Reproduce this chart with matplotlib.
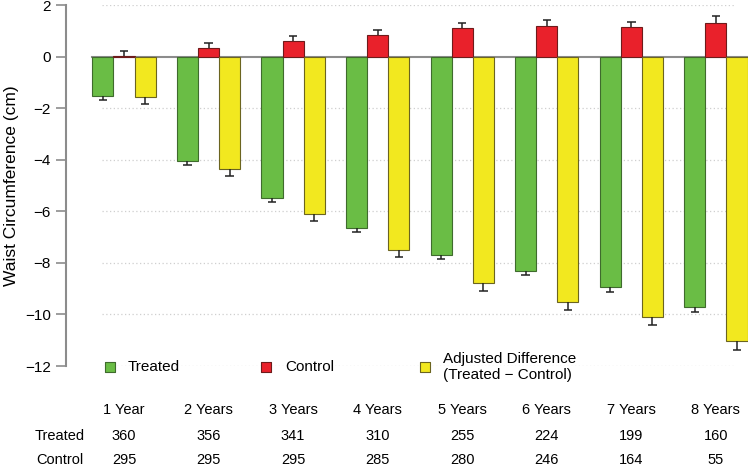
import numpy as np
import matplotlib
matplotlib.use("Agg")
from matplotlib import pyplot as plt
from matplotlib import transforms

plt.rcParams['font.family'] = ['Liberation Sans', 'DejaVu Sans']

# 数据: 腰围变化 (cm)
years = ["1 Year", "2 Years", "3 Years", "4 Years", "5 Years", "6 Years", "7 Years", "8 Years"]
treated = [-1.52, -4.04, -5.49, -6.65, -7.69, -8.32, -8.94, -9.72]
treated_se = [0.16, 0.16, 0.16, 0.16, 0.15, 0.16, 0.18, 0.17]
control = [0.03, 0.33, 0.60, 0.85, 1.11, 1.20, 1.16, 1.32]
control_se = [0.19, 0.18, 0.19, 0.17, 0.18, 0.20, 0.18, 0.26]
adjusted = [-1.56, -4.37, -6.10, -7.50, -8.79, -9.52, -10.10, -11.02]
adjusted_se = [0.29, 0.28, 0.27, 0.28, 0.31, 0.30, 0.31, 0.35]
n_treated = [360, 356, 341, 310, 255, 224, 199, 160]
n_control = [295, 295, 295, 285, 280, 246, 164, 55]

green = "#6abd45"
red = "#e9212b"
yellow = "#f2e81f"


def main():
    fig = plt.figure(figsize=(7.48, 4.66), dpi=100)
    ax = fig.add_axes([66 / 748, 100 / 466, 682 / 748, 361 / 466])

    # 每组3根柱, 组间空一格 (类似 R barplot space=c(0,1))
    g = np.arange(len(years))
    start = 1 + 4 * g
    series = [(treated, treated_se, green, "#3f6b2d", 0.5),
              (control, control_se, red, "#6e1b1b", 1.5),
              (adjusted, adjusted_se, yellow, "#6b6420", 2.5)]

    # 网格线
    for yv in range(-12, 3, 2):
        if yv == 0:
            continue
        ax.plot([1.45, 31.4], [yv, yv], color="#cfcfcf", lw=0.9, ls=(0, (1, 2)), zorder=0)
    ax.plot([1, 33], [0, 0], color="#8c8c8c", lw=1.5, zorder=1)

    for vals, se, col, ec, off in series:
        x = start + off
        vals = np.array(vals)
        se = np.array(se)
        ax.bar(x, vals, width=1.0, color=col, edgecolor=ec, linewidth=0.8, zorder=2)
        tip = vals + np.sign(vals) * se
        ax.vlines(x, vals, tip, color="#222222", lw=1.1, zorder=3)
        ax.hlines(tip, x - 0.2, x + 0.2, color="#222222", lw=1.1, zorder=3)

    ax.set_xlim(-0.244, 32.02)
    ax.set_ylim(-12, 2)
    ax.set_xticks([])
    ax.set_yticks(range(-12, 3, 2))
    for s in ["top", "right", "bottom"]:
        ax.spines[s].set_visible(False)
    ax.spines["left"].set_color("#8c8c8c")
    ax.spines["left"].set_linewidth(1.5)
    ax.spines["left"].set_bounds(-12, 2)
    ax.tick_params(axis="y", length=7, width=1.2, color="#8c8c8c", labelsize=11, pad=4)
    ax.set_ylabel("Waist Circumference (cm)", fontsize=12.5)
    ax.yaxis.set_label_coords(-0.069, 0.5)

    # 图例
    leg = [(1.84, 2.69, green, "#3f6b2d", "Treated"),
           (9.22, 10.12, red, "#6e1b1b", "Control"),
           (16.74, 17.59, yellow, "#6b6420", "Adjusted Difference\n(Treated \u2212 Control)")]
    for xs, xt, col, ec, lab in leg:
        ax.scatter([xs], [-12.05], marker="s", s=55, color=col, edgecolors=ec,
                   linewidths=0.8, clip_on=False, zorder=4)
        ax.text(xt, -12.05, lab, ha="left", va="center", fontsize=11,
                linespacing=1.15, clip_on=False)

    # 下方表格
    centers = start + 1.5
    trans = transforms.blended_transform_factory(ax.transData, fig.transFigure)
    row_y = [1 - 410 / 466, 1 - 435.5 / 466, 1 - 460.5 / 466]
    for c, yr, nt, nc in zip(centers, years, n_treated, n_control):
        ax.text(c, row_y[0], yr, transform=trans, ha="center", va="center", fontsize=10.5)
        ax.text(c, row_y[1], str(nt), transform=trans, ha="center", va="center", fontsize=10.5)
        ax.text(c, row_y[2], str(nc), transform=trans, ha="center", va="center", fontsize=10.5)
    fig.text(60 / 748, row_y[1], "Treated", ha="center", va="center", fontsize=10.5)
    fig.text(60 / 748, row_y[2], "Control", ha="center", va="center", fontsize=10.5)

    fig.savefig("out.png", dpi=100)


if __name__ == '__main__':
    main()
